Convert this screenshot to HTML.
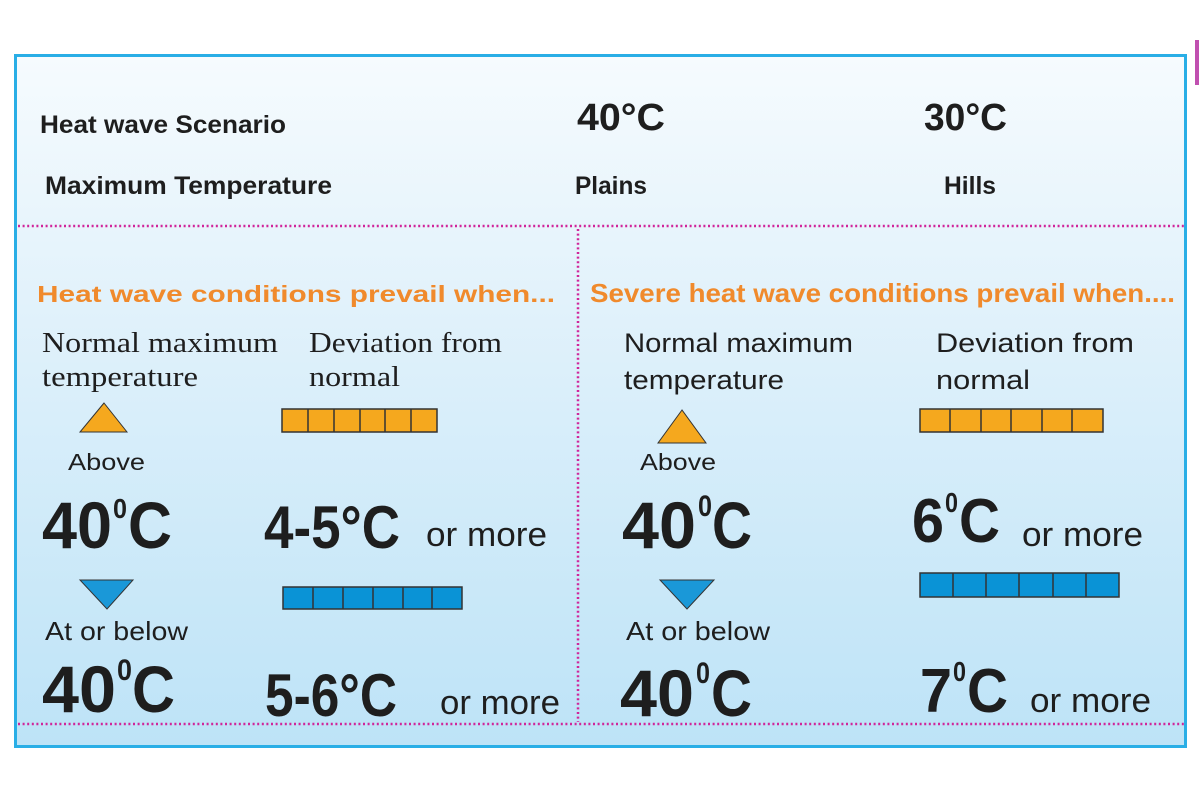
<!DOCTYPE html>
<html><head><meta charset="utf-8"><style>
html,body{margin:0;padding:0;background:#fff;}
svg{display:block;}
text{font-family:"Liberation Sans",sans-serif;fill:#1e1e1e;}
.b{font-weight:bold;}
.s{font-family:"Liberation Serif",serif;}
.o{fill:#f08a2c;font-weight:bold;}
</style></head><body>
<svg width="1200" height="800" viewBox="0 0 1200 800" xmlns="http://www.w3.org/2000/svg">
<defs>
<linearGradient id="g" x1="0" y1="0" x2="0" y2="1">
<stop offset="0" stop-color="#f6fbfe"/>
<stop offset="0.35" stop-color="#e2f2fb"/>
<stop offset="1" stop-color="#bde3f7"/>
</linearGradient>
</defs>
<rect x="0" y="0" width="1200" height="800" fill="#fff"/>
<rect x="1195" y="40" width="4" height="45" fill="#c050b0"/>
<rect x="15.5" y="55.5" width="1170" height="691" fill="url(#g)" stroke="#29aee6" stroke-width="3"/>
<g stroke="#d0259a" stroke-width="2.5" stroke-dasharray="2 2.6">
<line x1="18" y1="226" x2="1184" y2="226"/>
<line x1="578" y1="229" x2="578" y2="722"/>
<line x1="18" y1="724" x2="1184" y2="724"/>
</g>

<text class="b" x="40" y="133" font-size="25" textLength="246" lengthAdjust="spacingAndGlyphs">Heat wave Scenario</text>
<text class="b" x="45" y="194" font-size="25" textLength="287" lengthAdjust="spacingAndGlyphs">Maximum Temperature</text>
<text class="b" x="577" y="130" font-size="38" textLength="88" lengthAdjust="spacingAndGlyphs">40°C</text>
<text class="b" x="924" y="130" font-size="38" textLength="83" lengthAdjust="spacingAndGlyphs">30°C</text>
<text class="b" x="575" y="194" font-size="25" textLength="72" lengthAdjust="spacingAndGlyphs">Plains</text>
<text class="b" x="944" y="194" font-size="25" textLength="52" lengthAdjust="spacingAndGlyphs">Hills</text>

<text class="o" x="37" y="302" font-size="23" textLength="518" lengthAdjust="spacingAndGlyphs">Heat wave conditions prevail when...</text>
<text class="o" x="590" y="302" font-size="26" textLength="585" lengthAdjust="spacingAndGlyphs">Severe heat wave conditions prevail when....</text>

<text class="s" x="42" y="352" font-size="28" textLength="236" lengthAdjust="spacingAndGlyphs">Normal maximum</text>
<text class="s" x="42" y="386" font-size="28" textLength="156" lengthAdjust="spacingAndGlyphs">temperature</text>
<text class="s" x="309" y="352" font-size="28" textLength="193" lengthAdjust="spacingAndGlyphs">Deviation from</text>
<text class="s" x="309" y="386" font-size="28" textLength="91" lengthAdjust="spacingAndGlyphs">normal</text>

<text x="624" y="352" font-size="27" textLength="229" lengthAdjust="spacingAndGlyphs">Normal maximum</text>
<text x="624" y="389" font-size="27" textLength="160" lengthAdjust="spacingAndGlyphs">temperature</text>
<text x="936" y="352" font-size="27" textLength="198" lengthAdjust="spacingAndGlyphs">Deviation from</text>
<text x="936" y="389" font-size="27" textLength="94" lengthAdjust="spacingAndGlyphs">normal</text>

<polygon points="104,403 80,432 127,432" fill="#f5a81e" stroke="#333" stroke-width="1"/>
<polygon points="682,410 658,443 706,443" fill="#f5a81e" stroke="#333" stroke-width="1"/>
<polygon points="80,580 133,580 107,609" fill="#1a98d8" stroke="#333" stroke-width="1"/>
<polygon points="660,580 714,580 687,609" fill="#1a98d8" stroke="#333" stroke-width="1"/>

<g stroke="#333" stroke-width="1.5">
<rect x="282" y="409" width="155" height="23" fill="#f5a81e"/>
<path d="M308 409v23M334 409v23M360 409v23M385 409v23M411 409v23" fill="none"/>
<rect x="920" y="409" width="183" height="23" fill="#f5a81e"/>
<path d="M950 409v23M981 409v23M1011 409v23M1042 409v23M1072 409v23" fill="none"/>
<rect x="283" y="587" width="179" height="22" fill="#0a93d6"/>
<path d="M313 587v22M343 587v22M373 587v22M403 587v22M432 587v22" fill="none"/>
<rect x="920" y="573" width="199" height="24" fill="#0a93d6"/>
<path d="M953 573v24M986 573v24M1019 573v24M1053 573v24M1086 573v24" fill="none"/>
</g>

<text x="68" y="470" font-size="23" textLength="77" lengthAdjust="spacingAndGlyphs">Above</text>
<text x="640" y="470" font-size="23" textLength="76" lengthAdjust="spacingAndGlyphs">Above</text>
<text x="45" y="640" font-size="26" textLength="143" lengthAdjust="spacingAndGlyphs">At or below</text>
<text x="626" y="640" font-size="26" textLength="144" lengthAdjust="spacingAndGlyphs">At or below</text>

<text class="b" x="42" y="548" font-size="66" textLength="70" lengthAdjust="spacingAndGlyphs">40</text>
<text class="b" x="113" y="518" font-size="28" textLength="14" lengthAdjust="spacingAndGlyphs">0</text>
<text class="b" x="128" y="548" font-size="66" textLength="44" lengthAdjust="spacingAndGlyphs">C</text>
<text class="b" x="264" y="548" font-size="60" textLength="136" lengthAdjust="spacingAndGlyphs">4-5°C</text>
<text x="426" y="546" font-size="34" textLength="121" lengthAdjust="spacingAndGlyphs">or more</text>

<text class="b" x="622" y="548" font-size="66" textLength="74" lengthAdjust="spacingAndGlyphs">40</text>
<text class="b" x="698" y="516" font-size="30" textLength="14" lengthAdjust="spacingAndGlyphs">0</text>
<text class="b" x="712" y="548" font-size="66" textLength="40" lengthAdjust="spacingAndGlyphs">C</text>
<text class="b" x="912" y="542" font-size="62" textLength="32" lengthAdjust="spacingAndGlyphs">6</text>
<text class="b" x="945" y="512" font-size="28" textLength="13" lengthAdjust="spacingAndGlyphs">0</text>
<text class="b" x="959" y="542" font-size="62" textLength="41" lengthAdjust="spacingAndGlyphs">C</text>
<text x="1022" y="546" font-size="34" textLength="121" lengthAdjust="spacingAndGlyphs">or more</text>

<text class="b" x="42" y="712" font-size="66" textLength="74" lengthAdjust="spacingAndGlyphs">40</text>
<text class="b" x="117" y="680" font-size="30" textLength="15" lengthAdjust="spacingAndGlyphs">0</text>
<text class="b" x="132" y="712" font-size="66" textLength="43" lengthAdjust="spacingAndGlyphs">C</text>
<text class="b" x="265" y="716" font-size="60" textLength="132" lengthAdjust="spacingAndGlyphs">5-6°C</text>
<text x="440" y="714" font-size="34" textLength="120" lengthAdjust="spacingAndGlyphs">or more</text>

<text class="b" x="620" y="716" font-size="66" textLength="74" lengthAdjust="spacingAndGlyphs">40</text>
<text class="b" x="696" y="683" font-size="30" textLength="14" lengthAdjust="spacingAndGlyphs">0</text>
<text class="b" x="711" y="716" font-size="66" textLength="41" lengthAdjust="spacingAndGlyphs">C</text>
<text class="b" x="920" y="712" font-size="62" textLength="32" lengthAdjust="spacingAndGlyphs">7</text>
<text class="b" x="953" y="681" font-size="28" textLength="13" lengthAdjust="spacingAndGlyphs">0</text>
<text class="b" x="967" y="712" font-size="62" textLength="41" lengthAdjust="spacingAndGlyphs">C</text>
<text x="1030" y="712" font-size="34" textLength="121" lengthAdjust="spacingAndGlyphs">or more</text>
</svg>
</body></html>
